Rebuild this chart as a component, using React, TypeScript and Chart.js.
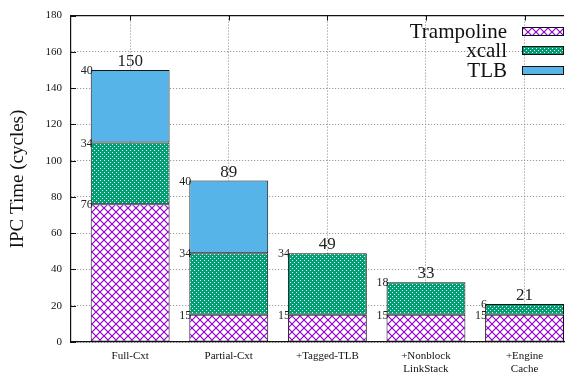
import React, { useEffect, useRef } from "react";
import { Chart, registerables } from "chart.js";

Chart.register(...registerables);

const categories: (string | string[])[] = [
  "Full-Cxt",
  "Partial-Cxt",
  "+Tagged-TLB",
  ["+Nonblock", "LinkStack"],
  ["+Engine", "Cache"],
];
const trampoline = [76, 15, 15, 15, 15];
const xcall = [34, 34, 34, 18, 6];
const tlb = [40, 40, 0, 0, 0];
const yTicks = [0, 20, 40, 60, 80, 100, 120, 140, 160, 180];
const seriesNames = ["Trampoline", "xcall", "TLB"];

const SERIF = "'Liberation Serif', 'DejaVu Serif', serif";
const PURPLE = "#9400d3";
const GREEN = "#009e73";
const BLUE = "#56b4e9";

function makeCrosshatch(): CanvasPattern | string {
  const c = document.createElement("canvas");
  c.width = 8;
  c.height = 8;
  const g = c.getContext("2d");
  if (!g) return PURPLE;
  g.fillStyle = "#ffffff";
  g.fillRect(0, 0, 8, 8);
  g.strokeStyle = PURPLE;
  g.lineWidth = 1.2;
  g.beginPath();
  g.moveTo(-1, -1);
  g.lineTo(9, 9);
  g.moveTo(-1, 9);
  g.lineTo(9, -1);
  g.stroke();
  return g.createPattern(c, "repeat") || PURPLE;
}

function makeDots(): CanvasPattern | string {
  const c = document.createElement("canvas");
  c.width = 4;
  c.height = 4;
  const g = c.getContext("2d");
  if (!g) return GREEN;
  g.fillStyle = GREEN;
  g.fillRect(0, 0, 4, 4);
  g.fillStyle = "#ffffff";
  g.fillRect(0, 0, 1, 1);
  g.fillRect(2, 2, 1, 1);
  return g.createPattern(c, "repeat") || GREEN;
}

export default function App() {
  const ref = useRef<HTMLCanvasElement | null>(null);

  useEffect(() => {
    document.body.style.margin = "0";
    const canvas = ref.current;
    if (!canvas) return;
    const fills = [makeCrosshatch(), makeDots(), BLUE];
    const series = [trampoline, xcall, tlb];

    const annotate = {
      id: "annotate",
      afterDatasetsDraw(chart: any) {
        const ctx = chart.ctx;
        const area = chart.chartArea;
        const xs = chart.scales.x;
        const ys = chart.scales.y;
        ctx.save();

        // frame: top border plus inward tick marks
        ctx.strokeStyle = "#111";
        ctx.lineWidth = 1.2;
        ctx.beginPath();
        ctx.moveTo(area.left, area.top);
        ctx.lineTo(area.right, area.top);
        ctx.stroke();
        ctx.lineWidth = 1;
        ctx.beginPath();
        yTicks.forEach((v) => {
          const y = Math.round(ys.getPixelForValue(v)) + 0.5;
          ctx.moveTo(area.left, y);
          ctx.lineTo(area.left + 5, y);
        });
        for (let i = 0; i < categories.length; i++) {
          const x = Math.round(xs.getPixelForValue(i)) + 0.5;
          ctx.moveTo(x, area.top);
          ctx.lineTo(x, area.top + 5);
        }
        ctx.stroke();

        // segment values to the left of each bar
        ctx.fillStyle = "#222";
        ctx.font = `12px ${SERIF}`;
        ctx.textAlign = "right";
        ctx.textBaseline = "middle";
        chart.data.datasets.forEach((ds: any, di: number) => {
          const meta = chart.getDatasetMeta(di);
          meta.data.forEach((bar: any, i: number) => {
            const v = series[di][i];
            if (!v) return;
            ctx.fillText(String(v), bar.x - bar.width / 2 + 2, bar.y + 1);
          });
        });

        // totals above each stack
        ctx.font = `17px ${SERIF}`;
        ctx.textAlign = "center";
        ctx.textBaseline = "bottom";
        for (let i = 0; i < categories.length; i++) {
          const total = trampoline[i] + xcall[i] + tlb[i];
          const x = xs.getPixelForValue(i);
          const y = ys.getPixelForValue(total);
          ctx.fillText(String(total), x, y);
        }

        // y-axis title
        ctx.save();
        ctx.translate(18, 179);
        ctx.rotate(-Math.PI / 2);
        ctx.font = `19px ${SERIF}`;
        ctx.textAlign = "center";
        ctx.textBaseline = "middle";
        ctx.fillStyle = "#111";
        ctx.fillText("IPC Time (cycles)", 0, 0);
        ctx.restore();

        // legend, top right
        const rowY = [31, 50, 70];
        ctx.font = `21px ${SERIF}`;
        ctx.textAlign = "right";
        ctx.textBaseline = "middle";
        seriesNames.forEach((name, k) => {
          ctx.fillStyle = "#111";
          ctx.fillText(name, 507, rowY[k] + 1);
          ctx.fillStyle = fills[k] as any;
          ctx.fillRect(522, rowY[k] - 4, 42, 9);
          ctx.strokeStyle = "#111";
          ctx.lineWidth = 1;
          ctx.strokeRect(522.5, rowY[k] - 3.5, 41, 8);
        });

        ctx.restore();
      },
    };

    const datasets = series.map((vals, k) => ({
      label: seriesNames[k],
      data: vals.map((v, i) => ({ x: i, y: v })),
      backgroundColor: fills[k] as any,
      borderColor: "#111",
      borderWidth: 1,
      borderSkipped: false,
      categoryPercentage: 1,
      barPercentage: 0.8,
    }));

    const chart = new Chart(canvas, {
      type: "bar",
      data: { datasets },
      plugins: [annotate],
      options: {
        responsive: false,
        animation: false,
        layout: { padding: { top: 9, right: 12, left: 0, bottom: 0 } },
        plugins: {
          legend: { display: false },
          tooltip: { enabled: false },
        },
        scales: {
          x: {
            type: "linear",
            stacked: true,
            offset: false,
            min: -0.6,
            max: 4.4,
            afterBuildTicks: (s: any) => {
              s.ticks = categories.map((_, i) => ({ value: i }));
            },
            afterFit: (s: any) => {
              s.height = 39;
            },
            ticks: {
              callback: (v: any) => categories[Math.round(Number(v))] as any,
              font: { family: SERIF, size: 11, lineHeight: 1.15 },
              color: "#111",
              padding: 8,
              maxRotation: 0,
              autoSkip: false,
            },
            grid: {
              color: "#888",
              lineWidth: 1,
              drawTicks: false,
              offset: false,
            },
            border: { color: "#111", width: 1.2, dash: [1, 2], display: true },
          },
          y: {
            stacked: true,
            min: 0,
            max: 180,
            afterBuildTicks: (s: any) => {
              s.ticks = yTicks.map((v) => ({ value: v }));
            },
            afterFit: (s: any) => {
              s.width = 71;
            },
            ticks: {
              font: { family: SERIF, size: 11 },
              color: "#111",
              padding: 9,
            },
            grid: {
              color: "#888",
              lineWidth: 1,
              drawTicks: false,
            },
            border: { color: "#111", width: 1.2, dash: [1, 2], display: true },
          },
        },
      },
    } as any);

    return () => chart.destroy();
  }, []);

  return <canvas ref={ref} width={576} height={381} style={{ display: "block" }} />;
}
